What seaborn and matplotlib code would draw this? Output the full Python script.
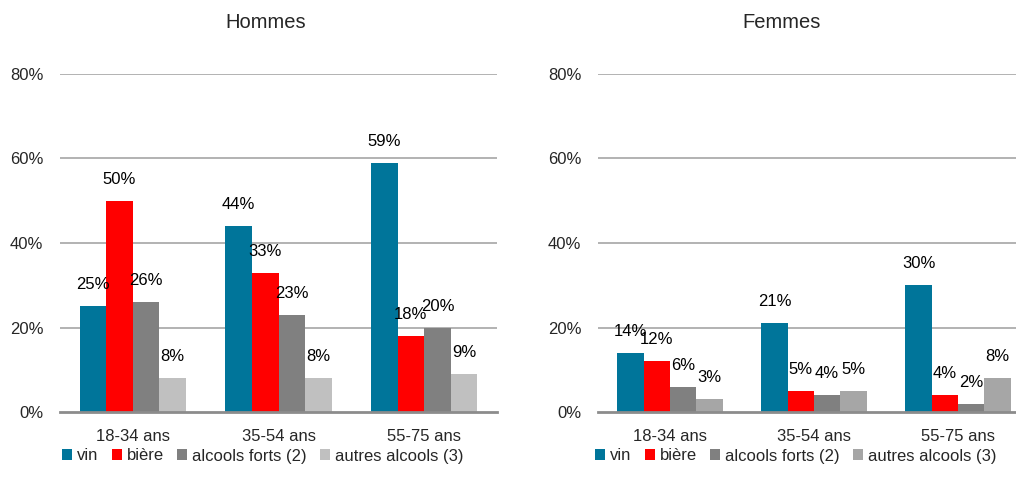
import matplotlib
matplotlib.use("Agg")
import matplotlib.pyplot as plt
import seaborn as sns
import pandas as pd
from matplotlib.patches import Patch
from matplotlib import font_manager

ages = ["18-34 ans", "35-54 ans", "55-75 ans"]
boissons = ["vin", "bière", "alcools forts (2)", "autres alcools (3)"]

hommes_vin = [25, 44, 59]
hommes_biere = [50, 33, 18]
hommes_forts = [26, 23, 20]
hommes_autres = [8, 8, 9]

femmes_vin = [14, 21, 30]
femmes_biere = [12, 5, 4]
femmes_forts = [6, 4, 2]
femmes_autres = [3, 5, 8]

yticks = [0, 20, 40, 60, 80]

sns.set_theme(style="white")
names = {f.name for f in font_manager.fontManager.ttflist}
if "Liberation Sans Narrow" in names:
    plt.rcParams["font.family"] = ["Liberation Sans Narrow", "DejaVu Sans"]
    FS, TFS = 14, 17
else:
    plt.rcParams["font.family"] = ["Liberation Sans", "DejaVu Sans"]
    FS, TFS = 12, 14.5

def long_df(series):
    rows = []
    for b, vals in zip(boissons, series):
        for a, v in zip(ages, vals):
            rows.append({"age": a, "boisson": b, "pct": v})
    return pd.DataFrame(rows)

W, H = 1016, 492
panels = [
    ("Hommes", [hommes_vin, hommes_biere, hommes_forts, hommes_autres],
     ["#00759A", "#FF0000", "#808080", "#C0C0C0"], (60, 437), 266, 263),
    ("Femmes", [femmes_vin, femmes_biere, femmes_forts, femmes_autres],
     ["#00759A", "#FF0000", "#808080", "#A6A6A6"], (598, 432), 782, 796),
]

fig = plt.figure(figsize=(W / 100, H / 100), dpi=100)
for title, series, colors, (x0, w), tx, lx in panels:
    ax = fig.add_axes([x0 / W, 1 - 412 / H, w / W, 338 / H])
    df = long_df(series)
    sns.barplot(data=df, x="age", y="pct", hue="boisson", order=ages,
                hue_order=boissons, palette=dict(zip(boissons, colors)),
                width=0.73, gap=0, saturation=1, ax=ax, legend=False,
                edgecolor="none", linewidth=0, errorbar=None)
    for c in ax.containers:
        ax.bar_label(c, fmt="%.0f%%", padding=10, fontsize=FS, color="#000000")
    ax.set_ylim(0, 80)
    ax.set_xlim(-0.5, 2.5)
    ax.set_yticks(yticks)
    ax.set_yticklabels([f"{t}%" for t in yticks], fontsize=FS)
    ax.tick_params(axis="x", labelsize=FS, length=0, pad=12)
    ax.tick_params(axis="y", length=0, pad=12)
    ax.set_xlabel("")
    ax.set_ylabel("")
    ax.grid(False)
    for t in yticks[1:]:
        ax.axhline(t, color="#A6A6A6", linewidth=1.2, zorder=0)
    for s in ["top", "right", "left"]:
        ax.spines[s].set_visible(False)
    ax.spines["bottom"].set_color("#8C8C8C")
    ax.spines["bottom"].set_linewidth(2)
    ax.set_axisbelow(True)
    fig.text(tx / W, 1 - 22 / H, title, ha="center", va="center", fontsize=TFS)
    handles = [Patch(facecolor=c, edgecolor="none") for c in colors]
    fig.legend(handles, boissons, loc="center", bbox_to_anchor=(lx / W, 1 - 456 / H),
               ncol=4, frameon=False, fontsize=FS, handlelength=0.6,
               handleheight=0.6, handletextpad=0.3, columnspacing=0.8,
               borderaxespad=0, borderpad=0)

fig.savefig("out.png", dpi=100)
